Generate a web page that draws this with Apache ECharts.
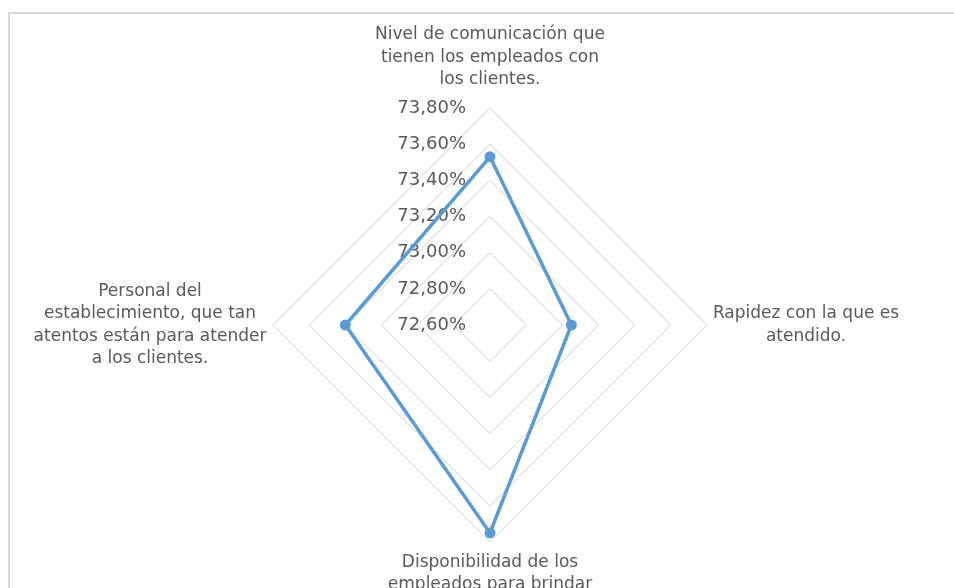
<!DOCTYPE html>
<html>
<head>
<meta charset="utf-8">
<script src="https://cdn.jsdelivr.net/npm/echarts@6/dist/echarts.min.js"></script>
<style>
  html, body { margin: 0; padding: 0; background: #fff; }
  #chart { width: 954px; height: 588px; }
</style>
</head>
<body>
<div id="chart"></div>
<script>
// ECharts draws radar axes counter-clockwise from the top: top, left, bottom, right
var categories = [
    'Nivel de comunicación que\ntienen los empleados con\nlos clientes.',
    'Personal del\nestablecimiento, que tan\natentos están para atender\na los clientes.',
    'Disponibilidad de los\nempleados para brindar\natención.',
    'Rapidez con la que es\natendido.'
];
var values = [73.53, 73.40, 73.75, 73.05];
var axisMin = 72.6;
var axisMax = 73.8;
var seriesName = 'Serie1';

var nameBoxWidths = [250, 236, 250, 188];

var myChart = echarts.init(document.getElementById('chart'));

var indicators = categories.map(function (c, i) {
    var ind = { name: c, min: axisMin, max: axisMax };
    if (i > 0) {
        ind.axisLabel = { show: false };
    }
    return ind;
});

var nameStyle = function (w) {
    return { color: '#595959', fontSize: 17, lineHeight: 22.5, width: w, align: 'center' };
};

myChart.setOption({
    animation: false,
    textStyle: { fontFamily: 'DejaVu Sans' },
    graphic: [{
        type: 'rect',
        shape: { x: 9, y: 13, width: 1000, height: 700 },
        style: { fill: 'none', stroke: '#d9d9d9', lineWidth: 2 },
        silent: true
    }],
    radar: {
        center: [490, 325],
        radius: 217,
        startAngle: 90,
        shape: 'polygon',
        splitNumber: 6,
        indicator: indicators,
        nameGap: 5,
        axisName: {
            color: '#595959',
            formatter: function (name) {
                var i = categories.indexOf(name);
                var out = name.split('\n').map(function (l) {
                    return '{t' + i + '|' + l + '}';
                }).join('\n');
                if (i === 0) {
                    out += '\n{s|}';
                }
                if (i === 2) {
                    out = '{s2|}\n' + out;
                }
                return out;
            },
            rich: {
                t0: nameStyle(nameBoxWidths[0]),
                t1: nameStyle(nameBoxWidths[1]),
                t2: nameStyle(nameBoxWidths[2]),
                t3: nameStyle(nameBoxWidths[3]),
                s: { fontSize: 1, lineHeight: 12 },
                s2: { fontSize: 1, lineHeight: 4 }
            }
        },
        axisLine: { show: false },
        splitLine: { lineStyle: { color: '#e6e6e6', width: 1.5 } },
        splitArea: { show: false },
        axisTick: { show: false },
        axisLabel: {
            show: true,
            color: '#595959',
            fontSize: 18,
            margin: 24,
            formatter: function (v) {
                return v.toFixed(2).replace('.', ',') + '%';
            }
        }
    },
    series: [{
        name: seriesName,
        type: 'radar',
        symbol: 'circle',
        symbolSize: 11,
        lineStyle: { color: '#5b9bd5', width: 3.5 },
        itemStyle: { color: '#5b9bd5' },
        data: [{ value: values, name: seriesName }]
    }]
});
</script>
</body>
</html>
